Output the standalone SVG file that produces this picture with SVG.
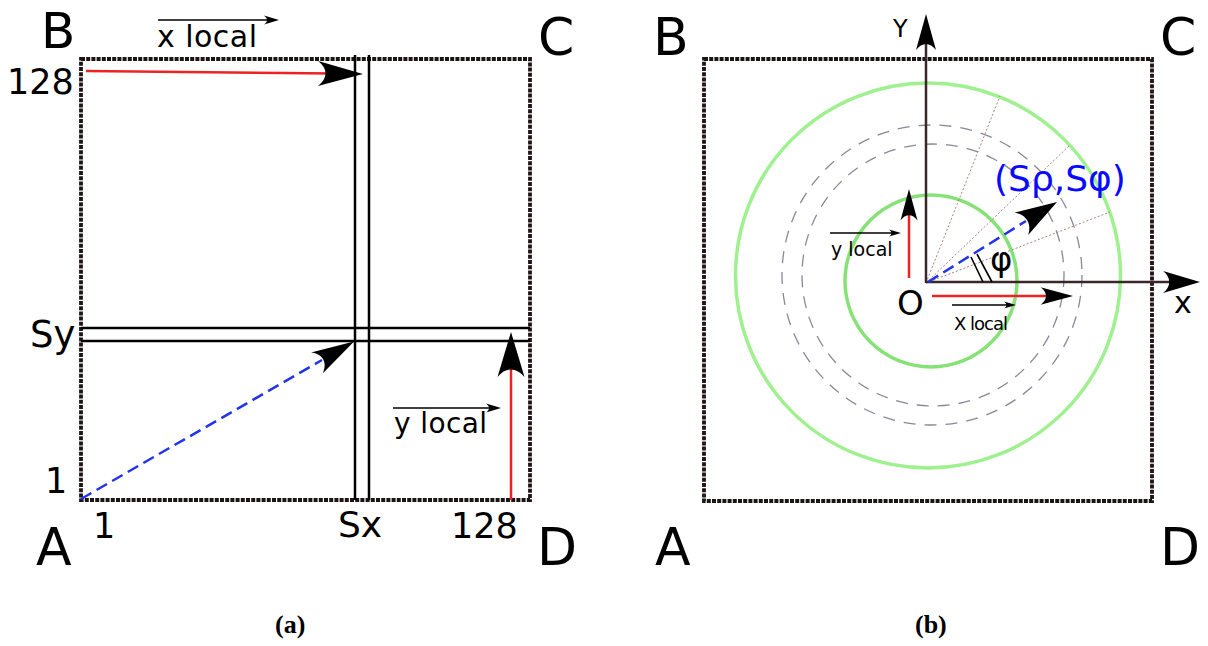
<svg xmlns="http://www.w3.org/2000/svg" xmlns:xlink="http://www.w3.org/1999/xlink" width="1208" height="646" viewBox="0 0 1208 646">
<style>
.lbl{font-family:"DejaVu Sans","Liberation Sans",sans-serif;fill:#000}
.big{font-size:52px}
.num{font-size:35px}
.cap{font-family:"Liberation Serif",serif;font-weight:bold;font-size:26px}
.border{fill:none;stroke:#1e1414;stroke-width:3.8;stroke-dasharray:4 1.2}
.dbl{stroke:#000;stroke-width:2.5;fill:none}
.red{stroke:#ee2222;stroke-width:2.5;fill:none}
.blue{stroke:#2233ee;stroke-width:2.5;fill:none;stroke-dasharray:12 6}
.axis{stroke:#3a2828;stroke-width:2.5;fill:none}
.gc{fill:none;stroke:#9ff08f;stroke-width:3.5}
.gi{fill:none;stroke:#86e276;stroke-width:3.5}
.dc{fill:none;stroke:#888899;stroke-width:1.3;stroke-dasharray:12 9}
.rad{stroke:#b08080;stroke-width:1;stroke-dasharray:2 2;fill:none}
.ov{stroke:#000;stroke-width:1.3;fill:none}
</style>
<defs>
<path id="ah" d="M0,0 L-45,-12.5 C-35,-5 -35,5 -45,12.5 Z" fill="#000"/>
<path id="sah" d="M0,0 L-15,-4.5 C-11,-1.5 -11,1.5 -15,4.5 Z" fill="#000"/>
</defs>
<rect width="1208" height="646" fill="#fff"/>

<g id="panel-a">
  <rect class="border" x="81" y="59" width="449" height="441"/>
  <g id="grid-lines">
    <line class="dbl" x1="355" y1="55" x2="355" y2="500"/>
    <line class="dbl" x1="369" y1="55" x2="369" y2="500"/>
    <line class="dbl" x1="81" y1="328" x2="530" y2="328"/>
    <line class="dbl" x1="81" y1="341" x2="530" y2="341"/>
  </g>
  <g id="connectors-a">
    <line class="red" x1="86" y1="71" x2="335" y2="73.5"/>
    <use xlink:href="#ah" transform="translate(363,74) rotate(0.5)"/>
    <line class="blue" x1="81" y1="499" x2="322" y2="360"/>
    <use xlink:href="#ah" transform="translate(354,341.5) rotate(-30) scale(0.95)"/>
    <line class="red" x1="511" y1="500" x2="511" y2="365"/>
    <use xlink:href="#ah" transform="translate(511,332) rotate(-90) scale(1,1.08)"/>
    <line class="ov" x1="158" y1="20" x2="270" y2="20"/>
    <use xlink:href="#sah" transform="translate(279,20)"/>
    <line class="ov" x1="393" y1="408" x2="492" y2="408"/>
    <use xlink:href="#sah" transform="translate(501,408)"/>
  </g>
  <g id="labels-a">
    <text class="lbl" font-size="50" x="41" y="48">B</text>
    <text class="lbl big" x="538" y="55">C</text>
    <text class="lbl big" x="36" y="565">A</text>
    <text class="lbl big" x="537" y="565">D</text>
    <text class="lbl num" x="7" y="94">128</text>
    <text class="lbl" font-size="37" x="30" y="347">Sy</text>
    <text class="lbl num" x="45" y="493">1</text>
    <text class="lbl num" x="93" y="538">1</text>
    <text class="lbl" font-size="36" x="338" y="537">Sx</text>
    <text class="lbl num" x="451" y="538">128</text>
    <text class="lbl" font-size="30" x="157" y="47" textLength="100">x local</text>
    <text class="lbl" font-size="28" x="394" y="433" textLength="93">y local</text>
  </g>
  <text class="cap" x="275" y="633">(a)</text>
</g>

<g id="panel-b">
  <rect class="border" x="704" y="59" width="448" height="442"/>
  <g id="circles">
    <circle class="gc" cx="928" cy="275.5" r="192.5"/>
    <circle class="dc" cx="932" cy="275" r="150"/>
    <circle class="dc" cx="933" cy="275" r="131"/>
    <circle class="gi" cx="931" cy="281" r="86"/>
  </g>
  <g id="radials">
    <line class="rad" x1="926" y1="283" x2="1000" y2="96"/>
    <line class="rad" x1="926" y1="283" x2="1070" y2="145"/>
    <line class="rad" x1="926" y1="283" x2="1110" y2="212"/>
  </g>
  <g id="axes">
    <line class="axis" x1="926" y1="283" x2="926" y2="40"/>
    <use xlink:href="#ah" transform="translate(926,14) rotate(-90) scale(0.8)"/>
    <line class="axis" x1="926" y1="282" x2="1175" y2="282"/>
    <use xlink:href="#ah" transform="translate(1200,282) rotate(0) scale(0.82,0.88)"/>
  </g>
  <g id="connectors-b">
    <line class="blue" x1="928" y1="282" x2="1026" y2="221"/>
    <use xlink:href="#ah" transform="translate(1057,202) rotate(-31.5) scale(0.93,1.05)"/>
    <line class="red" x1="932" y1="296" x2="1050" y2="296"/>
    <use xlink:href="#ah" transform="translate(1073,296) rotate(0) scale(0.72,0.7)"/>
    <line class="red" x1="909" y1="278" x2="909" y2="210"/>
    <use xlink:href="#ah" transform="translate(909,189) rotate(-90) scale(0.7,0.68)"/>
    <line stroke="#000" stroke-width="1.6" x1="971" y1="257" x2="983" y2="282"/>
    <line stroke="#000" stroke-width="1.6" x1="977" y1="254" x2="992" y2="282"/>
    <line class="ov" x1="830" y1="233" x2="893" y2="233"/>
    <use xlink:href="#sah" transform="translate(901,233) scale(0.8)"/>
    <line class="ov" x1="952" y1="305" x2="1008" y2="305"/>
    <use xlink:href="#sah" transform="translate(1016,305) scale(0.8)"/>
  </g>
  <g id="labels-b">
    <text class="lbl big" x="653" y="55">B</text>
    <text class="lbl big" x="1160" y="55">C</text>
    <text class="lbl big" x="655" y="565">A</text>
    <text class="lbl big" x="1160" y="565">D</text>
    <text class="lbl" font-size="24" x="893" y="37">Y</text>
    <text class="lbl" font-size="30" x="1174" y="313">x</text>
    <text class="lbl" font-size="34" x="897" y="315">O</text>
    <text class="lbl" font-size="34" x="990" y="271">φ</text>
    <text class="lbl" font-size="36" x="994" y="191" style="fill:#0a0aff">(Sρ,Sφ)</text>
    <text class="lbl" font-size="19" x="831" y="256">y local</text>
    <text class="lbl" font-size="18" x="954" y="330" textLength="54">X local</text>
  </g>
  <text class="cap" x="915" y="633">(b)</text>
</g>
</svg>
